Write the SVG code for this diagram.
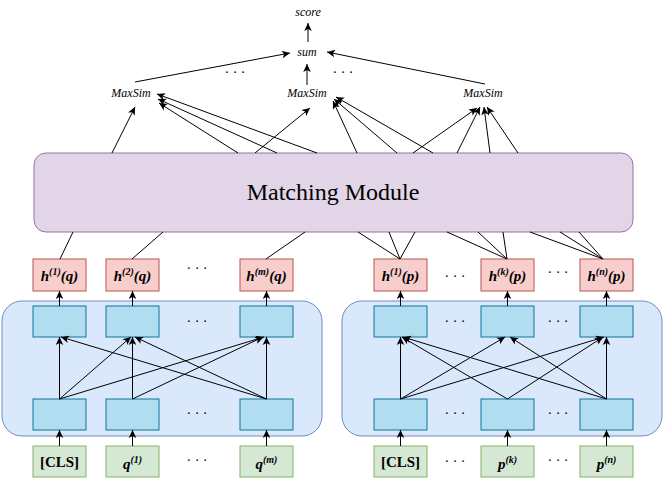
<svg xmlns="http://www.w3.org/2000/svg" width="664" height="482" viewBox="0 0 664 482">
<defs>
<marker id="ah" markerUnits="userSpaceOnUse" markerWidth="10" markerHeight="10" viewBox="0 0 10 10" refX="9" refY="5" orient="auto">
<path d="M1,1.2 L9,5 L1,8.8 L3,5 Z" fill="#000"/>
</marker>
<style>
.enc{fill:#dae8fc;stroke:#6c8ebf;stroke-width:1}
.cell{fill:#b1ddf0;stroke:#10739e;stroke-width:1}
.red{fill:#f8cecc;stroke:#b85450;stroke-width:1}
.grn{fill:#d5e8d4;stroke:#82b366;stroke-width:1}
.mm{fill:#e1d5e7;stroke:#9673a6;stroke-width:1}
text{font-family:'Liberation Serif','Times New Roman',Times,'DejaVu Serif',serif}
.t{fill:#000;text-anchor:middle}
.lab{font-size:15px;font-weight:bold}
.it{font-style:italic}
.sm{font-size:12px;font-style:italic}
.dots{font-size:14px;text-anchor:middle;fill:#000}
.c{stroke:#000;stroke-width:1;fill:none}
.a{stroke:#000;stroke-width:1;fill:none;marker-end:url(#ah)}
</style>
</defs>
<rect width="664" height="482" fill="#fff"/>

<g id="encoder-q"><rect class="enc" x="2" y="301" width="320" height="135" rx="20"/></g>
<g id="encoder-p"><rect class="enc" x="342" y="301" width="320" height="135" rx="20"/></g>

<g id="matching-module">
<rect class="mm" x="34" y="153" width="599" height="79" rx="12"/>
<text class="t" x="333" y="200" font-size="24" font-family="Liberation Serif, serif">Matching Module</text>
</g>

<g id="score"><text class="t sm" x="308" y="16">score</text></g>
<g id="sum"><text class="t sm" x="307" y="56">sum</text></g>
<g id="maxsim-1"><text class="t sm" x="131" y="97">MaxSim</text></g>
<g id="maxsim-2"><text class="t sm" x="307" y="97">MaxSim</text></g>
<g id="maxsim-3"><text class="t sm" x="483" y="97">MaxSim</text></g>

<g id="q-cells-top">
<rect class="cell" x="33" y="306" width="53" height="31"/>
<rect class="cell" x="106" y="306" width="53" height="31"/>
<rect class="cell" x="240" y="306" width="53" height="31"/>
</g>
<g id="q-cells-bottom">
<rect class="cell" x="33" y="399" width="53" height="31"/>
<rect class="cell" x="106" y="399" width="53" height="31"/>
<rect class="cell" x="240" y="399" width="53" height="31"/>
</g>
<g id="p-cells-top">
<rect class="cell" x="374" y="306" width="53" height="31"/>
<rect class="cell" x="481" y="306" width="53" height="31"/>
<rect class="cell" x="580" y="306" width="53" height="31"/>
</g>
<g id="p-cells-bottom">
<rect class="cell" x="374" y="399" width="53" height="31"/>
<rect class="cell" x="481" y="399" width="53" height="31"/>
<rect class="cell" x="580" y="399" width="53" height="31"/>
</g>

<g id="hq1"><rect class="red" x="33" y="259" width="53" height="32"/><text class="t lab it" x="59.5" y="281">h<tspan font-size="10" dy="-6">(1)</tspan><tspan dy="6">(q)</tspan></text></g>
<g id="hq2"><rect class="red" x="106" y="259" width="53" height="32"/><text class="t lab it" x="132.5" y="281">h<tspan font-size="10" dy="-6">(2)</tspan><tspan dy="6">(q)</tspan></text></g>
<g id="hqm"><rect class="red" x="240" y="259" width="53" height="32"/><text class="t lab it" x="266.5" y="281">h<tspan font-size="10" dy="-6">(m)</tspan><tspan dy="6">(q)</tspan></text></g>
<g id="hp1"><rect class="red" x="374" y="259" width="53" height="32"/><text class="t lab it" x="400.5" y="281">h<tspan font-size="10" dy="-6">(1)</tspan><tspan dy="6">(p)</tspan></text></g>
<g id="hpk"><rect class="red" x="481" y="259" width="53" height="32"/><text class="t lab it" x="507.5" y="281">h<tspan font-size="10" dy="-6">(k)</tspan><tspan dy="6">(p)</tspan></text></g>
<g id="hpn"><rect class="red" x="580" y="259" width="53" height="32"/><text class="t lab it" x="606.5" y="281">h<tspan font-size="10" dy="-6">(n)</tspan><tspan dy="6">(p)</tspan></text></g>

<g id="in-q-cls"><rect class="grn" x="33" y="446" width="53" height="31"/><text class="t lab" x="59.5" y="467">[CLS]</text></g>
<g id="in-q1"><rect class="grn" x="106" y="446" width="53" height="31"/><text class="t lab it" x="132.5" y="469">q<tspan font-size="10" dy="-6">(1)</tspan></text></g>
<g id="in-qm"><rect class="grn" x="240" y="446" width="53" height="31"/><text class="t lab it" x="266.5" y="469">q<tspan font-size="10" dy="-6">(m)</tspan></text></g>
<g id="in-p-cls"><rect class="grn" x="374" y="446" width="53" height="31"/><text class="t lab" x="400.5" y="467">[CLS]</text></g>
<g id="in-pk"><rect class="grn" x="481" y="446" width="53" height="31"/><text class="t lab it" x="507.5" y="469">p<tspan font-size="10" dy="-6">(k)</tspan></text></g>
<g id="in-pn"><rect class="grn" x="580" y="446" width="53" height="31"/><text class="t lab it" x="606.5" y="469">p<tspan font-size="10" dy="-6">(n)</tspan></text></g>

<g id="ellipses">
<text class="dots" x="235" y="77">· · ·</text>
<text class="dots" x="343" y="77">· · ·</text>
<text class="dots" x="197" y="273">· · ·</text>
<text class="dots" x="455" y="281">· · ·</text>
<text class="dots" x="558" y="277">· · ·</text>
<text class="dots" x="197" y="326">· · ·</text>
<text class="dots" x="455" y="326">· · ·</text>
<text class="dots" x="558" y="326">· · ·</text>
<text class="dots" x="197" y="418">· · ·</text>
<text class="dots" x="455" y="418">· · ·</text>
<text class="dots" x="558" y="418">· · ·</text>
<text class="dots" x="197" y="465">· · ·</text>
<text class="dots" x="455" y="466">· · ·</text>
<text class="dots" x="558" y="465">· · ·</text>
</g>

<g id="connectors">
<line class="a" x1="308" y1="42" x2="308" y2="23"/>
<line class="a" x1="307" y1="85" x2="307" y2="64"/>
<line class="a" x1="135" y1="82" x2="290" y2="53"/>
<line class="a" x1="485" y1="84" x2="327" y2="52"/>
<line class="a" x1="112" y1="153" x2="135" y2="107"/>
<line class="a" x1="238" y1="153" x2="159" y2="103"/>
<line class="a" x1="277" y1="153" x2="158" y2="99"/>
<line class="a" x1="317" y1="153" x2="157" y2="94"/>
<line class="a" x1="255" y1="153" x2="310" y2="108"/>
<line class="a" x1="357" y1="153" x2="333" y2="101"/>
<line class="a" x1="397" y1="153" x2="334" y2="99"/>
<line class="a" x1="433" y1="153" x2="336" y2="97"/>
<line class="a" x1="413" y1="153" x2="477" y2="108"/>
<line class="a" x1="457" y1="153" x2="480" y2="107"/>
<line class="a" x1="490" y1="153" x2="484" y2="107"/>
<line class="a" x1="518" y1="153" x2="487" y2="107"/>
<line class="c" x1="73" y1="232" x2="60" y2="259"/>
<line class="c" x1="163" y1="232" x2="132" y2="259"/>
<line class="c" x1="305" y1="232" x2="266" y2="259"/>
<line class="c" x1="358" y1="232" x2="400" y2="259"/>
<line class="c" x1="389" y1="232" x2="400" y2="259"/>
<line class="c" x1="415" y1="232" x2="400" y2="259"/>
<line class="c" x1="447" y1="232" x2="507" y2="259"/>
<line class="c" x1="478" y1="232" x2="507" y2="259"/>
<line class="c" x1="503" y1="232" x2="507" y2="259"/>
<line class="c" x1="530" y1="232" x2="603" y2="259"/>
<line class="c" x1="560" y1="232" x2="603" y2="259"/>
<line class="c" x1="579" y1="232" x2="603" y2="259"/>
<line class="a" x1="59.5" y1="306" x2="59.5" y2="291"/>
<line class="a" x1="132.5" y1="306" x2="132.5" y2="291"/>
<line class="a" x1="266.5" y1="306" x2="266.5" y2="291"/>
<line class="a" x1="400.5" y1="306" x2="400.5" y2="291"/>
<line class="a" x1="507.5" y1="306" x2="507.5" y2="291"/>
<line class="a" x1="606.5" y1="306" x2="606.5" y2="291"/>
<line class="a" x1="59.5" y1="446" x2="59.5" y2="430"/>
<line class="a" x1="132.5" y1="446" x2="132.5" y2="430"/>
<line class="a" x1="266.5" y1="446" x2="266.5" y2="430"/>
<line class="a" x1="400.5" y1="446" x2="400.5" y2="430"/>
<line class="a" x1="507.5" y1="446" x2="507.5" y2="430"/>
<line class="a" x1="606.5" y1="446" x2="606.5" y2="430"/>
<line class="a" x1="59.5" y1="399" x2="59.5" y2="337"/>
<line class="a" x1="59.5" y1="399" x2="131" y2="337"/>
<line class="a" x1="59.5" y1="399" x2="264" y2="337"/>
<line class="a" x1="132.5" y1="399" x2="132.5" y2="337"/>
<line class="a" x1="132.5" y1="399" x2="263" y2="337"/>
<line class="a" x1="266.5" y1="399" x2="266.5" y2="337"/>
<line class="a" x1="266.5" y1="399" x2="61" y2="337"/>
<line class="a" x1="266.5" y1="399" x2="135" y2="337"/>
<line class="a" x1="400.5" y1="399" x2="400.5" y2="337"/>
<line class="a" x1="400.5" y1="399" x2="505" y2="337"/>
<line class="a" x1="400.5" y1="399" x2="604" y2="337"/>
<line class="a" x1="507.5" y1="399" x2="402" y2="337"/>
<line class="a" x1="507.5" y1="399" x2="603" y2="337"/>
<line class="a" x1="606.5" y1="399" x2="606.5" y2="337"/>
<line class="a" x1="606.5" y1="399" x2="403" y2="337"/>
<line class="a" x1="606.5" y1="399" x2="510" y2="337"/>
</g>
</svg>
